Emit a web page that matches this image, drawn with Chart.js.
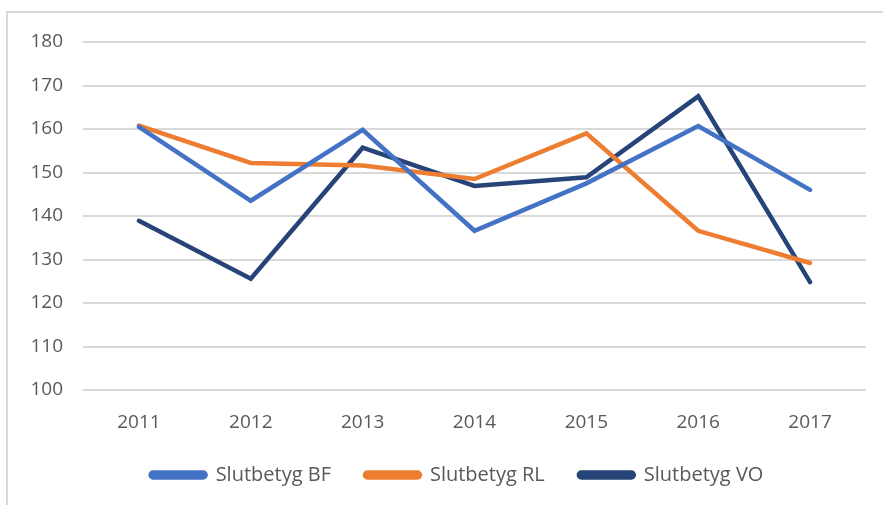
<!DOCTYPE html>
<html>
<head>
<meta charset="utf-8">
<script src="https://cdn.jsdelivr.net/npm/chart.js@4.4.1/dist/chart.umd.min.js"></script>
<style>
html,body{margin:0;padding:0;background:#fff;width:883px;height:505px;overflow:hidden;}
#frame{position:absolute;left:6px;top:11px;width:900px;height:520px;border:2px solid #d9d9d9;box-sizing:border-box;}
#wrap{position:absolute;left:0;top:0;width:883px;height:505px;}
</style>
</head>
<body>
<div id="frame"></div>
<div id="wrap"><canvas id="c" width="883" height="505"></canvas></div>
<script>
const categories = ["2011","2012","2013","2014","2015","2016","2017"];
const seriesNames = ["Slutbetyg BF","Slutbetyg RL","Slutbetyg VO"];
const valuesBF = [160.5, 143.5, 159.8, 136.6, 147.5, 160.7, 146.0];
const valuesRL = [160.8, 152.2, 151.6, 148.5, 159.0, 136.6, 129.2];
const valuesVO = [138.9, 125.6, 155.7, 146.9, 148.9, 167.5, 124.8];
const yTicks = [100,110,120,130,140,150,160,170,180];
const colors = ["#4472C4","#ED7D31","#264478"];

const FONT = "'Open Sans', sans-serif";
const seriesValues = [valuesBF, valuesRL, valuesVO];
const datasets = seriesNames.map((n,i)=>({
  label:n,
  data:seriesValues[i],
  borderColor:colors[i],
  backgroundColor:colors[i],
  borderWidth:4.5,
  borderCapStyle:'round',
  borderJoinStyle:'miter',
  pointRadius:0,
  tension:0,
  fill:false
}));

const shiftLegend = {
  id:'shiftLegend',
  afterLayout(chart){
    if(chart.legend){ chart.legend.left += 24; chart.legend.right += 24; }
  }
};

new Chart(document.getElementById('c'),{
  type:'line',
  data:{labels:categories,datasets},
  plugins:[shiftLegend],
  options:{
    responsive:false,
    animation:false,
    devicePixelRatio:1,
    layout:{padding:{top:42,right:17,left:0,bottom:10}},
    plugins:{
      tooltip:{enabled:false},
      legend:{
        position:'bottom',
        labels:{
          boxWidth:55,
          boxHeight:5,
          useBorderRadius:true,
          borderRadius:2.5,
          padding:34,
          color:'#595959',
          font:{family:FONT,size:20}
        }
      }
    },
    scales:{
      x:{
        offset:true,
        grid:{display:false,drawTicks:false},
        border:{display:false},
        ticks:{color:'#595959',font:{family:FONT,size:19},padding:21,maxRotation:0},
        afterFit:(s)=>{s.height=41;}
      },
      y:{
        min:100,max:180,
        afterBuildTicks:(s)=>{s.ticks=yTicks.map(v=>({value:v}));},
        grid:{color:'#d9d9d9',lineWidth:2,drawTicks:false},
        border:{display:false},
        ticks:{color:'#595959',font:{family:FONT,size:19},padding:20},
        afterFit:(s)=>{s.width=83;}
      }
    }
  }
});
</script>
</body>
</html>
